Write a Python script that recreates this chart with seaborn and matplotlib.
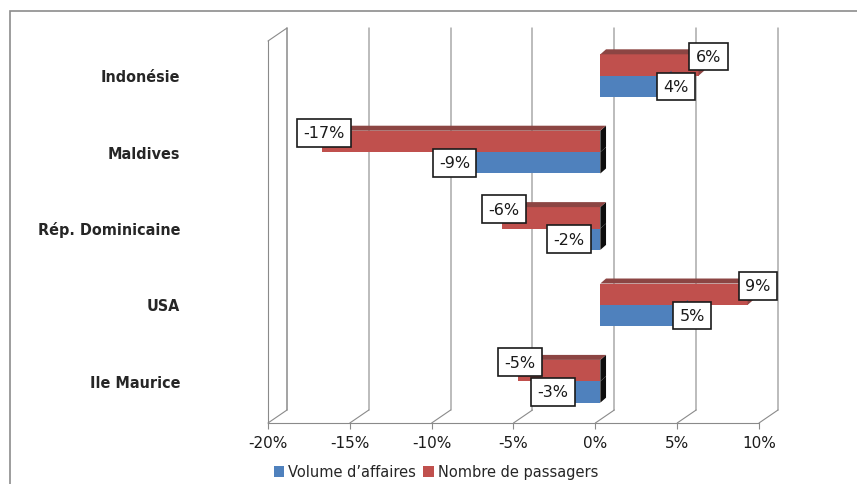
import pandas as pd
import matplotlib
matplotlib.use('Agg')
import matplotlib.pyplot as plt
import matplotlib.transforms as mtransforms
from matplotlib.patches import Polygon, Rectangle, Patch
import seaborn as sns

# values (% change)
pays = ['Indonésie', 'Maldives', 'Rép. Dominicaine', 'USA', 'Ile Maurice']
volume_affaires = [4, -9, -2, 5, -3]
nombre_passagers = [6, -17, -6, 9, -5]
series = ['Volume d\u2019affaires', 'Nombre de passagers']
colors = ['#4f81bd', '#c0504d']
side_colors = ['#3a6290', '#8c4543']
xticks = [-20, -15, -10, -5, 0, 5, 10]

df = pd.DataFrame({
    'pays': pays * 2,
    'valeur': volume_affaires + nombre_passagers,
    'serie': [series[0]] * len(pays) + [series[1]] * len(pays),
})

sns.set_theme(style='white')
plt.rcParams['font.family'] = ['DejaVu Sans']

W, H = 857, 485
fig = plt.figure(figsize=(W / 100, H / 100), dpi=100)
ax = fig.add_axes([268 / W, 1 - 424 / H, (759 - 268) / W, (424 - 42) / H])

# red bar on top, blue below -> Nombre first in hue order
sns.barplot(data=df, x='valeur', y='pays', hue='serie', order=pays,
            hue_order=series[::-1], palette=colors[::-1], orient='h',
            width=0.56, saturation=1, errorbar=None, legend=False, ax=ax,
            linewidth=0, edgecolor='none', zorder=3)
ax.set_xlim(-20, 10)
ax.set_ylim(4.5, -0.5)

sx = ax.bbox.width / 30
sy = ax.bbox.height / 5
dpt = fig.dpi_scale_trans

# bars sit a bit behind the front plane
bar_tr = ax.transData + mtransforms.ScaledTranslation(5 / 100, 3.5 / 100, dpt)
for p in ax.patches:
    p.set_transform(bar_tr)

# 3D faces
ddx, ddy = 5.7 / sx, 5 / sy
bw = 0.28
for i in range(len(pays)):
    pair = [(nombre_passagers[i], 1), (volume_affaires[i], 0)]
    for k, (v, s) in enumerate(pair):
        y0 = i - bw + k * bw
        y1 = y0 + bw
        xe = max(v, 0)
        fc = '#0d0d0d' if v < 0 else side_colors[s]
        ax.add_patch(Polygon([(xe, y0), (xe, y1), (xe + ddx, y1 - ddy), (xe + ddx, y0 - ddy)],
                             closed=True, fc=fc, ec='none', transform=bar_tr, zorder=3))
    v = nombre_passagers[i]
    x0, x1 = min(v, 0), max(v, 0)
    y0 = i - bw
    ax.add_patch(Polygon([(x0, y0), (x1, y0), (x1 + ddx, y0 - ddy), (x0 + ddx, y0 - ddy)],
                         closed=True, fc=side_colors[1], ec='none', transform=bar_tr, zorder=3))

# data labels
for i in range(len(pays)):
    for k, v in enumerate([nombre_passagers[i], volume_affaires[i]]):
        y = i - bw / 2 if k == 0 else i + bw / 2
        xo = 10 if v > 0 else 1.5
        yo = 8.5 if k == 0 else 0
        ax.annotate(f'{v}%', xy=(v, y), xycoords=bar_tr,
                    xytext=(xo * 0.72, yo * 0.72), textcoords='offset points',
                    ha='center', va='center', fontsize=11.5, color='#1a1a1a',
                    bbox=dict(boxstyle='square,pad=0.4', fc='white', ec='#1a1a1a', lw=1.2),
                    zorder=6, annotation_clip=False)

# back wall gridlines, floor lines and left wall
back_tr = ax.get_xaxis_transform() + mtransforms.ScaledTranslation(19 / 100, 13 / 100, dpt)
for t in xticks:
    col = '#8a8a8a' if t == xticks[0] else '#aaaaaa'
    ax.plot([t, t], [0, 1], transform=back_tr, color=col, lw=1.1, zorder=1, clip_on=False)
    ax.plot([t, t + 19 / sx], [0, 13 / ax.bbox.height], transform=ax.get_xaxis_transform(),
            color='#8a8a8a', lw=0.8, zorder=1, clip_on=False)
ax.plot([xticks[0], xticks[0] + 19 / sx], [1, 1 + 13 / ax.bbox.height],
        transform=ax.get_xaxis_transform(), color='#8a8a8a', lw=0.8, clip_on=False)

# category names
name_tr = ax.get_yaxis_transform() + mtransforms.ScaledTranslation(0, 2.5 / 100, dpt)
for i, name in enumerate(pays):
    ax.text((180 - 268) / ax.bbox.width, i, name, transform=name_tr, ha='right', va='center',
            fontsize=11.5, fontweight='bold', fontstretch='condensed', color='#262626',
            family=['Liberation Sans Narrow', 'DejaVu Sans'])

ax.set_xticks(xticks)
ax.set_xticklabels([f'{t}%' for t in xticks])
ax.set_yticks([])
ax.set_xlabel('')
ax.set_ylabel('')
ax.tick_params(axis='x', bottom=True, length=4.3, width=0.8, color='#8a8a8a',
               pad=4, labelsize=11, labelcolor='#1a1a1a', direction='out')
for side in ['top', 'right']:
    ax.spines[side].set_visible(False)
for side in ['left', 'bottom']:
    ax.spines[side].set_color('#8a8a8a')
    ax.spines[side].set_linewidth(0.8)

handles = [Patch(fc=c, ec='none') for c in colors]
fig.legend(handles, series, loc='center', bbox_to_anchor=(436 / W, 1 - 473 / H), ncol=2,
           frameon=False, fontsize=10.5, handlelength=0.7, handleheight=0.7,
           handletextpad=0.3, columnspacing=0.5, borderpad=0, borderaxespad=0)

# outer chart frame (cropped at right and bottom)
fig.add_artist(Rectangle((10 / W, -0.1), 1.2, 1 - 12 / H + 0.1, transform=fig.transFigure,
                         fill=False, ec='#8c8c8c', lw=1.2))

fig.savefig('out.png', dpi=100)
